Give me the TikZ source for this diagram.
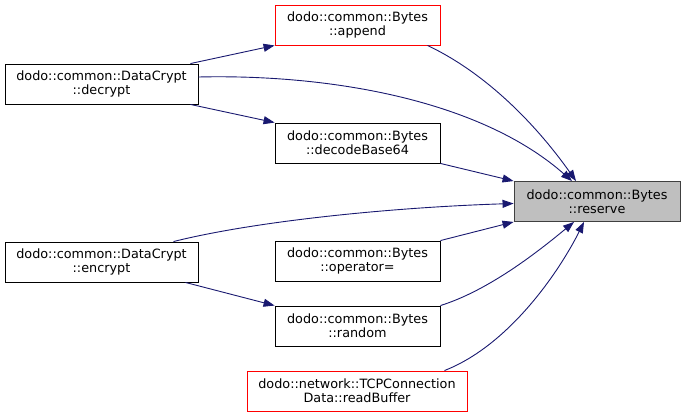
\documentclass[tikz,border=0pt]{standalone}
\usepackage{fontspec}
\setmainfont{DejaVu Sans}
\usetikzlibrary{arrows.meta, positioning}
\definecolor{edgeblue}{RGB}{25,25,112}
\definecolor{boxgray}{RGB}{191,191,191}
\definecolor{boxred}{RGB}{255,0,0}
\tikzset{
    fnbox/.style={draw, rectangle, inner sep=0pt, align=center, draw=black, fill=white, line width=0.9pt, minimum height=40pt, minimum width=165pt, font=\fontsize{12.8}{14}\selectfont},
    fnred/.style={fnbox, draw=boxred},
    fnself/.style={fnbox, draw=black!75, fill=boxgray},
    call/.style={line width=0.9pt, draw=edgeblue, -{Triangle[length=11pt, width=8pt, fill=edgeblue]}}
}
\begin{document}
\begin{tikzpicture}[x=1pt, y=-1pt]
        \useasboundingbox (0,0) rectangle (684,417);

        % -----------------------------------------------------------------
        % NODI
        % -----------------------------------------------------------------
        \node[fnred] (append) at (357.5, 25) {dodo::common::Bytes\\::append};
        \node[fnbox, minimum width=193pt] (decrypt) at (101.5, 84) {dodo::common::DataCrypt\\::decrypt};
        \node[fnbox] (decode) at (357.5, 143) {dodo::common::Bytes\\::decodeBase64};
        \node[fnself, minimum width=166pt] (reserve) at (597, 201.5) {dodo::common::Bytes\\::reserve};
        \node[fnbox, minimum width=193pt] (encrypt) at (101.5, 262) {dodo::common::DataCrypt\\::encrypt};
        \node[fnbox] (opassign) at (357.5, 261) {dodo::common::Bytes\\::operator=};
        \node[fnbox] (random) at (357.5, 326) {dodo::common::Bytes\\::random};
        \node[fnred, minimum width=220pt] (readbuf) at (357, 391) {dodo::network::TCPConnection\\Data::readBuffer};

        % -----------------------------------------------------------------
        % CHIAMATE
        % -----------------------------------------------------------------
        \draw[call] ([xshift=-8pt]decrypt.north east) -- (append.south west);
        \draw[call] ([xshift=-8pt]decrypt.south east) -- (decode.north west);
        \draw[call] ([xshift=-13pt]encrypt.south east) -- (random.north west);

        \draw[call] ([xshift=-13pt]append.south east) .. controls (490,75) and (540,130) .. ([xshift=-21pt]reserve.north);
        \draw[call] ([yshift=7pt]decrypt.east) .. controls (330,74) and (480,100) .. ([xshift=-25pt]reserve.north);
        \draw[call] (decode.south east) -- (reserve.north west);
        \draw[call] ([xshift=-25pt]encrypt.north east) .. controls (260,220) and (400,207) .. ([yshift=-2pt]reserve.west);
        \draw[call] (opassign.north east) -- (reserve.south west);
        \draw[call] (random.north east) .. controls (490,290) and (540,250) .. ([xshift=-23pt]reserve.south);
        \draw[call] ([xshift=-23pt]readbuf.north east) .. controls (510,345) and (560,270) .. ([xshift=-13pt]reserve.south);

    \end{tikzpicture}
\end{document}
